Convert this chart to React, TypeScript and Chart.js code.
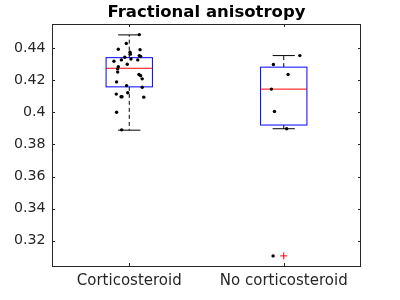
import React, { useEffect, useRef } from 'react';
import { Chart, registerables } from 'chart.js';

Chart.register(...registerables);

const chartTitle = 'Fractional anisotropy';
const categories = ['Corticosteroid', 'No corticosteroid'];
const yTicks = [0.32, 0.34, 0.36, 0.38, 0.4, 0.42, 0.44];
const yMin = 0.3042;
const yMax = 0.4551;

// individual observations (value) and their horizontal jitter (category units)
const corticoValues = [
  0.4485, 0.4429, 0.4394, 0.4391, 0.4375, 0.4363, 0.4354, 0.4348, 0.4344, 0.4333,
  0.4327, 0.4327, 0.4319, 0.43, 0.4285, 0.4271, 0.4251, 0.4236, 0.4228, 0.4209,
  0.419, 0.4167, 0.4157, 0.4122, 0.4114, 0.4097, 0.4097, 0.4095, 0.4001, 0.3891,
];
const corticoJitter = [
  0.065, -0.019, -0.071, 0.07, 0.005, 0.007, 0.065, 0.074, -0.029, 0.011,
  -0.051, 0.055, -0.099, -0.013, -0.071, -0.075, -0.075, 0.063, 0.074, 0.084,
  -0.082, -0.017, 0.084, -0.01, -0.084, -0.053, -0.047, 0.094, -0.082, -0.049,
];
const noCorticoValues = [0.4354, 0.4298, 0.4236, 0.4145, 0.4005, 0.3898, 0.3105];
const noCorticoJitter = [0.104, -0.067, 0.028, -0.08, -0.06, 0.019, -0.069];

// box statistics per category
const q1 = [0.4159, 0.3921];
const medians = [0.4275, 0.4145];
const q3 = [0.4341, 0.4282];
const whiskerLow = [0.3889, 0.3898];
const whiskerHigh = [0.4483, 0.4354];
const outlierGroups = [2];
const outlierValues = [0.3105];

const BOX_HALF = 0.15;
const CAP_HALF = 0.072;
const FONT = '"DejaVu Sans", sans-serif';
const AXIS_COLOR = '#262626';

const boxPlugin = {
  id: 'boxPlugin',
  beforeDatasetsDraw(chart: any) {
    const { ctx, scales } = chart;
    const xs = scales.x;
    const ys = scales.y;
    ctx.save();
    categories.forEach((_, i) => {
      const c = i + 1;
      const xl = xs.getPixelForValue(c - BOX_HALF);
      const xr = xs.getPixelForValue(c + BOX_HALF);
      const xc = xs.getPixelForValue(c);
      const cl = xs.getPixelForValue(c - CAP_HALF);
      const cr = xs.getPixelForValue(c + CAP_HALF);
      const yq1 = ys.getPixelForValue(q1[i]);
      const yq3 = ys.getPixelForValue(q3[i]);
      const ym = ys.getPixelForValue(medians[i]);
      const ylo = ys.getPixelForValue(whiskerLow[i]);
      const yhi = ys.getPixelForValue(whiskerHigh[i]);
      // whiskers (dashed)
      ctx.strokeStyle = '#000000';
      ctx.lineWidth = 1;
      ctx.setLineDash([4, 3]);
      ctx.beginPath();
      ctx.moveTo(xc, yq3);
      ctx.lineTo(xc, yhi);
      ctx.moveTo(xc, yq1);
      ctx.lineTo(xc, ylo);
      ctx.stroke();
      ctx.setLineDash([]);
      // caps
      ctx.beginPath();
      ctx.moveTo(cl, yhi);
      ctx.lineTo(cr, yhi);
      ctx.moveTo(cl, ylo);
      ctx.lineTo(cr, ylo);
      ctx.stroke();
      // box
      ctx.strokeStyle = '#0000ff';
      ctx.strokeRect(xl, yq3, xr - xl, yq1 - yq3);
      // median
      ctx.strokeStyle = '#ff0000';
      ctx.beginPath();
      ctx.moveTo(xl, ym);
      ctx.lineTo(xr, ym);
      ctx.stroke();
    });
    ctx.restore();
  },
  afterDraw(chart: any) {
    const { ctx, chartArea, scales } = chart;
    const { left, right, top, bottom } = chartArea;
    ctx.save();
    ctx.strokeStyle = AXIS_COLOR;
    ctx.lineWidth = 1;
    ctx.strokeRect(left + 0.5, top + 0.5, right - left - 1, bottom - top);
    const tl = 3;
    ctx.beginPath();
    yTicks.forEach((v) => {
      const y = Math.round(scales.y.getPixelForValue(v)) + 0.5;
      ctx.moveTo(left, y);
      ctx.lineTo(left + tl, y);
      ctx.moveTo(right, y);
      ctx.lineTo(right - tl, y);
    });
    categories.forEach((_, i) => {
      const x = Math.round(scales.x.getPixelForValue(i + 1)) + 0.5;
      ctx.moveTo(x, top);
      ctx.lineTo(x, top + tl);
      ctx.moveTo(x, bottom);
      ctx.lineTo(x, bottom - tl);
    });
    ctx.stroke();
    // title
    ctx.fillStyle = '#000000';
    ctx.font = `bold 16.5px ${FONT}`;
    ctx.textAlign = 'center';
    ctx.textBaseline = 'alphabetic';
    ctx.fillText(chartTitle, (left + right) / 2, 17);
    ctx.restore();
  },
};

export default function App() {
  const canvasRef = useRef<HTMLCanvasElement | null>(null);

  useEffect(() => {
    if (!canvasRef.current) return;
    const chart = new Chart(canvasRef.current, {
      type: 'scatter',
      data: {
        datasets: [
          {
            data: corticoValues.map((v, i) => ({ x: 1 + corticoJitter[i], y: v })),
            pointRadius: 1.7,
            pointBackgroundColor: '#000000',
            pointBorderWidth: 0,
          },
          {
            data: noCorticoValues.map((v, i) => ({ x: 2 + noCorticoJitter[i], y: v })),
            pointRadius: 1.7,
            pointBackgroundColor: '#000000',
            pointBorderWidth: 0,
          },
          {
            data: outlierValues.map((v, i) => ({ x: outlierGroups[i], y: v })),
            pointStyle: 'cross',
            pointRadius: 3.5,
            pointBorderColor: '#ff0000',
            pointBorderWidth: 1,
          },
        ],
      },
      options: {
        animation: false,
        responsive: false,
        events: [],
        layout: { padding: { top: 24, right: 39, left: 0, bottom: 0 } },
        plugins: {
          legend: { display: false },
          title: { display: false },
          tooltip: { enabled: false },
        },
        scales: {
          x: {
            type: 'linear',
            min: 0.5,
            max: 2.5,
            grid: { display: false, drawTicks: false },
            border: { display: false },
            afterBuildTicks: (s: any) => {
              s.ticks = categories.map((_, i) => ({ value: i + 1 }));
            },
            afterFit: (s: any) => {
              s.height = 34;
            },
            ticks: {
              autoSkip: false,
              maxRotation: 0,
              padding: 6.5,
              color: AXIS_COLOR,
              font: { family: FONT, size: 15 },
              callback: (_v: any, i: number) => categories[i],
            },
          },
          y: {
            type: 'linear',
            min: yMin,
            max: yMax,
            grid: { display: false, drawTicks: false },
            border: { display: false },
            afterBuildTicks: (s: any) => {
              s.ticks = yTicks.map((v) => ({ value: v }));
            },
            afterFit: (s: any) => {
              s.width = 52;
            },
            ticks: {
              autoSkip: false,
              padding: 6.5,
              color: AXIS_COLOR,
              font: { family: FONT, size: 14.2 },
              callback: (v: any) => String(Number(Number(v).toFixed(2))),
            },
          },
        },
      },
      plugins: [boxPlugin],
    } as any);
    return () => chart.destroy();
  }, []);

  return (
    <div style={{ position: 'fixed', left: 0, top: 0, width: 400, height: 300, background: '#fff' }}>
      <canvas ref={canvasRef} width={400} height={300} style={{ width: 400, height: 300, display: 'block' }} />
    </div>
  );
}
